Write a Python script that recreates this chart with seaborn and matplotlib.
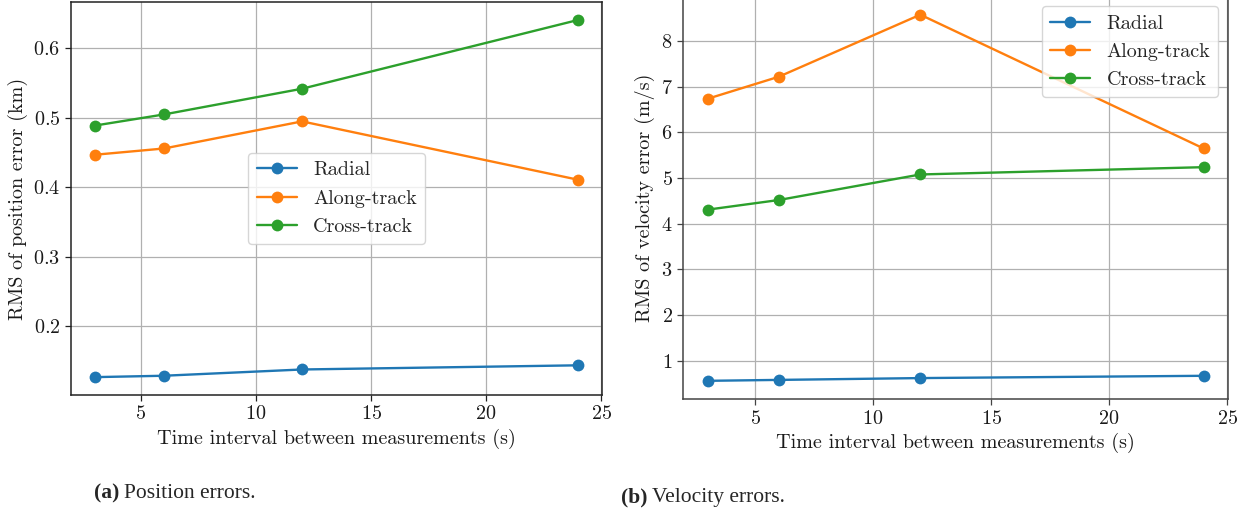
import matplotlib
matplotlib.use("Agg")
import matplotlib.pyplot as plt
import seaborn as sns

# Time interval between measurements (s)
intervals = [3, 6, 12, 24]

# RMS of position error (km)
pos_radial = [0.127, 0.129, 0.138, 0.144]
pos_along = [0.447, 0.456, 0.495, 0.411]
pos_cross = [0.489, 0.505, 0.542, 0.641]

# RMS of velocity error (m/s)
vel_radial = [0.56, 0.58, 0.62, 0.67]
vel_along = [6.74, 7.22, 8.58, 5.65]
vel_cross = [4.31, 4.52, 5.08, 5.24]

series_names = ["Radial", "Along-track", "Cross-track"]
captions = ["Position errors.", "Velocity errors."]
caption_tags = ["(a)", "(b)"]

sns.set_style("ticks")
plt.rcParams["font.family"] = ["cmr10", "DejaVu Serif"]
plt.rcParams["mathtext.fontset"] = "cm"
plt.rcParams["axes.formatter.use_mathtext"] = True
plt.rcParams["axes.unicode_minus"] = False

colors = sns.color_palette("tab10", 3)
fs = 14.5

fig = plt.figure(figsize=(12.42, 5.17), dpi=100)
ax1 = fig.add_axes([0.057, 0.236, 0.428, 0.760])
ax2 = fig.add_axes([0.550, 0.228, 0.439, 0.779])


def draw(ax, data, ylabel, legend_loc, spine_color):
    for name, vals, col in zip(series_names, data, colors):
        sns.lineplot(x=intervals, y=vals, ax=ax, label=name, color=col,
                     marker="o", markersize=8.5, markeredgewidth=0,
                     linewidth=1.7)
    ax.grid(True, color="#b0b0b0", linewidth=0.9)
    ax.set_axisbelow(True)
    for s in ax.spines.values():
        s.set_color(spine_color)
        s.set_linewidth(1.1)
    ax.tick_params(axis="both", labelsize=fs, direction="out", length=4,
                   width=0.9, color=spine_color, labelcolor="#1a1a1a")
    ax.set_xticks([5, 10, 15, 20, 25])
    ax.set_xlabel("Time interval between measurements (s)", fontsize=fs,
                  color="#1a1a1a")
    ax.set_ylabel(ylabel, fontsize=fs, color="#1a1a1a")
    ax.legend(loc=legend_loc, fontsize=fs, framealpha=0.8,
              handlelength=2.0, borderpad=0.4, labelspacing=0.5)


draw(ax1, [pos_radial, pos_along, pos_cross],
     "RMS of position error (km)", "center", "#222222")
draw(ax2, [vel_radial, vel_along, vel_cross],
     "RMS of velocity error (m/s)", "upper right", "#444444")

cap_font = ["Liberation Serif", "DejaVu Serif"]
for x, y, tag, cap in [(0.076, 0.046, caption_tags[0], captions[0]),
                       (0.500, 0.038, caption_tags[1], captions[1])]:
    t = fig.text(x, y, tag, fontsize=15.5, fontweight="bold",
                 family=cap_font, ha="left", va="center")
    fig.canvas.draw()
    bb = t.get_window_extent()
    x2 = (bb.x1 + 4) / fig.bbox.width
    fig.text(x2, y, cap, fontsize=15.5, family=cap_font,
             ha="left", va="center")

fig.savefig("out.png", dpi=100)
